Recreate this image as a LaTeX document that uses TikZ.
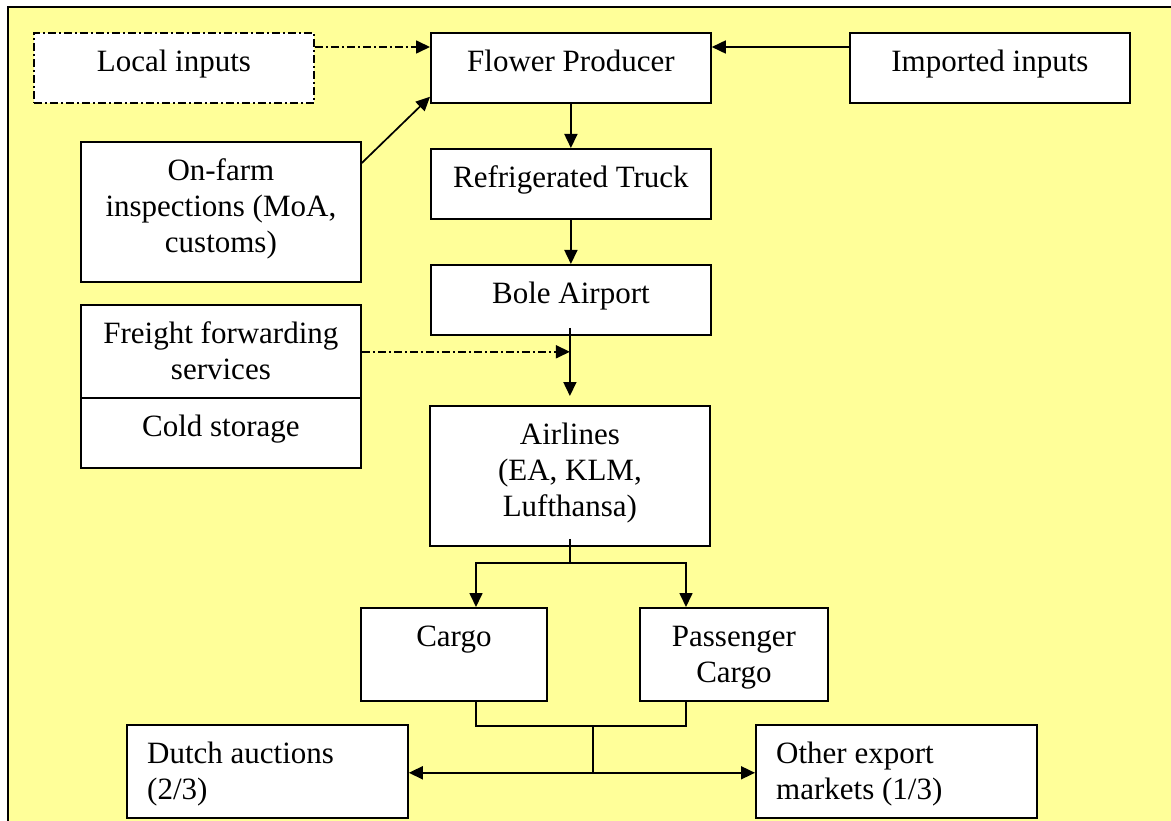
\documentclass[tikz,border=0pt]{standalone}
\usepackage{fontspec}
\setmainfont{Liberation Serif}
\usetikzlibrary{arrows.meta,calc}
\definecolor{bgyellow}{HTML}{FFFF99}
\begin{document}
\begin{tikzpicture}[x=1pt,y=-1pt,
  box/.style={draw=black, line width=1.8pt, fill=white, rectangle, inner sep=0pt, anchor=north west},
  dbox/.style={box, dash pattern=on 8pt off 3pt on 2pt off 3pt},
  txt/.style={anchor=north, align=center, inner sep=0pt, font=\fontsize{31}{36}\selectfont},
  ltxt/.style={anchor=north west, align=left, inner sep=0pt, font=\fontsize{31}{36}\selectfont},
  arr/.style={line width=1.7pt, -{Triangle[length=14pt,width=13pt]}},
  ln/.style={line width=1.7pt},
  dd/.style={dash pattern=on 8pt off 3pt on 2pt off 3pt}]
\useasboundingbox (0,0) rectangle (1171,821);
\fill[white] (0,0) rectangle (1171,821);
\draw[line width=1.8pt, fill=bgyellow] (8,7) rectangle (1190,840);

% boxes
\node[dbox, minimum width=280pt, minimum height=70pt] (local) at (33,32) {};
\node[box, minimum width=280pt, minimum height=70pt] (fp) at (430,32) {};
\node[box, minimum width=280pt, minimum height=70pt] (imp) at (849,32) {};
\node[box, minimum width=280pt, minimum height=140pt] (onf) at (80,141) {};
\node[box, minimum width=280pt, minimum height=70pt] (truck) at (430,148) {};
\node[box, minimum width=280pt, minimum height=70pt] (bole) at (430,264) {};
\node[box, minimum width=280pt, minimum height=93pt] (ff) at (80,304) {};
\node[box, minimum width=280pt, minimum height=70pt] (cold) at (80,397) {};
\node[box, minimum width=280pt, minimum height=140pt] (air) at (429,405) {};
\node[box, minimum width=186pt, minimum height=93pt] (cargo) at (360,607) {};
\node[box, minimum width=188pt, minimum height=93pt] (pass) at (639,607) {};
\node[box, minimum width=281pt, minimum height=93pt] (dutch) at (126,724) {};
\node[box, minimum width=281pt, minimum height=93pt] (other) at (755,724) {};

% texts
\node[txt] (localt) at ($(local.north)+(0,13.8)$) {\strut Local inputs};
\node[txt] (fpt) at ($(fp.north)+(0,13.8)$) {\strut Flower Producer};
\node[txt] (impt) at ($(imp.north)+(0,13.8)$) {\strut Imported inputs};
\node[txt] (onft) at ($(onf.north)+(0,13.8)$) {\strut On-farm\\inspections (MoA,\\customs)};
\node[txt] (truckt) at ($(truck.north)+(0,13.8)$) {\strut Refrigerated Truck};
\node[txt] (bolet) at ($(bole.north)+(0,13.8)$) {\strut Bole Airport};
\node[txt] (fft) at ($(ff.north)+(0,13.8)$) {\strut Freight forwarding\\services};
\node[txt] (coldt) at ($(cold.north)+(0,13.8)$) {\strut Cold storage};
\node[txt] (airt) at ($(air.north)+(0,13.8)$) {\strut Airlines\\(EA, KLM,\\Lufthansa)};
\node[txt] (cargot) at ($(cargo.north)+(0,13.8)$) {\strut Cargo};
\node[txt] (passt) at ($(pass.north)+(0,13.8)$) {\strut Passenger\\Cargo};
\node[ltxt] (dutcht) at ($(dutch.north west)+(21,13.8)$) {\strut Dutch auctions\\(2/3)};
\node[ltxt] (othert) at ($(other.north west)+(21,13.8)$) {\strut Other export\\markets (1/3)};

% connectors
\draw[arr,dd] ($(local.north east)+(0,15)$) -- ($(fp.north west)+(0,15)$);
\draw[arr] ($(imp.north west)+(0,15)$) -- ($(fp.north east)+(0,15)$);
\draw[arr] ($(onf.north east)+(0,22)$) -- ($(fp.south west)+(0,-7)$);
\draw[arr] (fp.south) -- (truck.north);
\draw[arr] (truck.south) -- (bole.north);
\draw[arr] ($(bole.south)+(-1,-8)$) -- ($(air.north)+(0,-9)$);
\coordinate (ffend) at ($(bole.south)+(-1,16)$);
\draw[arr,dd] (ff.east |- ffend) -- (ffend);

\coordinate (split) at ($(air.south)+(0,16)$);
\coordinate (cin) at ($(cargo.north west)+(116,0)$);
\coordinate (pin) at ($(pass.north west)+(47,0)$);
\draw[ln] ($(air.south)+(0,-8)$) -- (split);
\draw[arr] (split) -| (cin);
\draw[arr] (split) -| (pin);

\coordinate (cb) at ($(cargo.south west)+(116,0)$);
\coordinate (pb) at ($(pass.south west)+(47,0)$);
\coordinate (m1) at ($(cb)+(117,24)$);
\coordinate (m2) at ($(m1)+(0,47)$);
\draw[ln] (cb) -- ++(0,24) -| (pb);
\draw[ln] (m1) -- (m2);
\draw[arr] (m2) -- (dutch.east |- m2);
\draw[arr] (m2) -- (other.west |- m2);
\end{tikzpicture}
\end{document}
